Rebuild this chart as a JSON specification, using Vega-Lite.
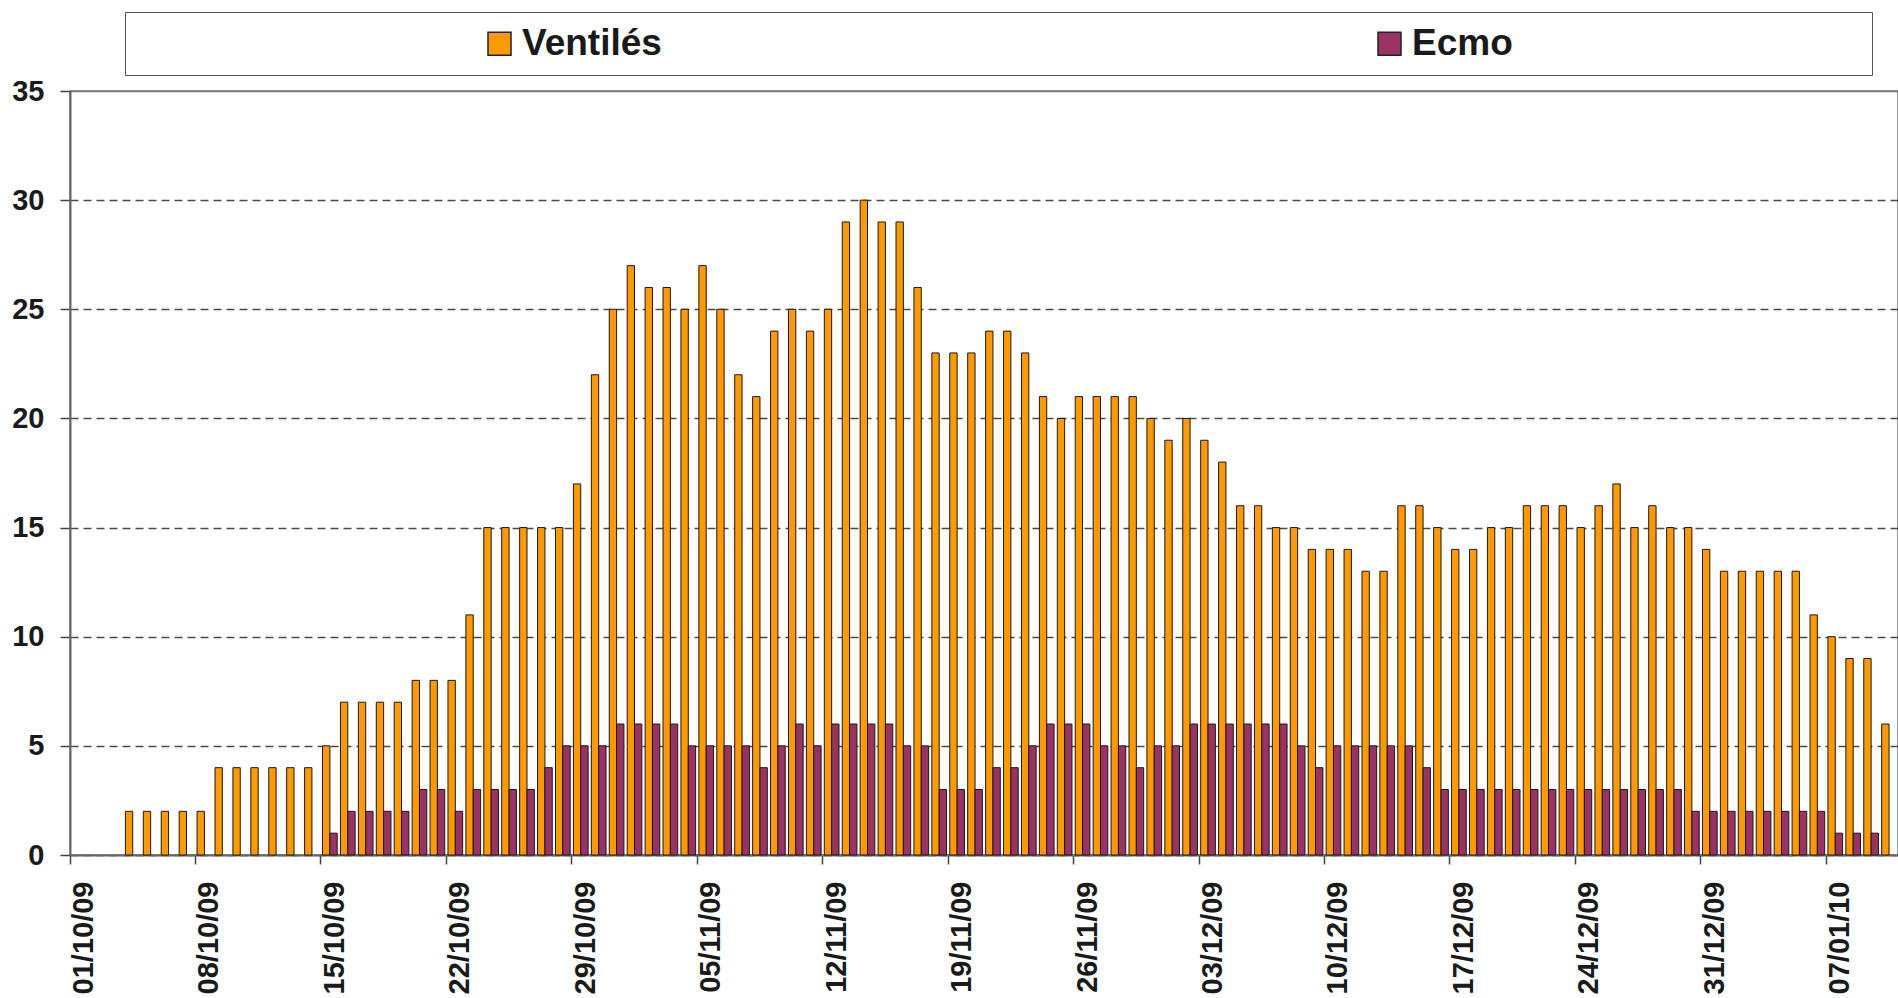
{
  "$schema": "https://vega.github.io/schema/vega-lite/v6.json",
  "width": 1828,
  "height": 764,
  "autosize": {"type": "none"},
  "padding": {"left": 70, "top": 91, "right": 0, "bottom": 143},
  "background": "white",
  "config": {
    "font": "Liberation Sans",
    "view": {"stroke": "#777", "strokeWidth": 1.5}
  },
  "data": {
    "values": [
      {"d": "01/10/09", "Ventilés": 0, "Ecmo": 0},
      {"d": "02/10/09", "Ventilés": 0, "Ecmo": 0},
      {"d": "03/10/09", "Ventilés": 0, "Ecmo": 0},
      {"d": "04/10/09", "Ventilés": 2, "Ecmo": 0},
      {"d": "05/10/09", "Ventilés": 2, "Ecmo": 0},
      {"d": "06/10/09", "Ventilés": 2, "Ecmo": 0},
      {"d": "07/10/09", "Ventilés": 2, "Ecmo": 0},
      {"d": "08/10/09", "Ventilés": 2, "Ecmo": 0},
      {"d": "09/10/09", "Ventilés": 4, "Ecmo": 0},
      {"d": "10/10/09", "Ventilés": 4, "Ecmo": 0},
      {"d": "11/10/09", "Ventilés": 4, "Ecmo": 0},
      {"d": "12/10/09", "Ventilés": 4, "Ecmo": 0},
      {"d": "13/10/09", "Ventilés": 4, "Ecmo": 0},
      {"d": "14/10/09", "Ventilés": 4, "Ecmo": 0},
      {"d": "15/10/09", "Ventilés": 5, "Ecmo": 1},
      {"d": "16/10/09", "Ventilés": 7, "Ecmo": 2},
      {"d": "17/10/09", "Ventilés": 7, "Ecmo": 2},
      {"d": "18/10/09", "Ventilés": 7, "Ecmo": 2},
      {"d": "19/10/09", "Ventilés": 7, "Ecmo": 2},
      {"d": "20/10/09", "Ventilés": 8, "Ecmo": 3},
      {"d": "21/10/09", "Ventilés": 8, "Ecmo": 3},
      {"d": "22/10/09", "Ventilés": 8, "Ecmo": 2},
      {"d": "23/10/09", "Ventilés": 11, "Ecmo": 3},
      {"d": "24/10/09", "Ventilés": 15, "Ecmo": 3},
      {"d": "25/10/09", "Ventilés": 15, "Ecmo": 3},
      {"d": "26/10/09", "Ventilés": 15, "Ecmo": 3},
      {"d": "27/10/09", "Ventilés": 15, "Ecmo": 4},
      {"d": "28/10/09", "Ventilés": 15, "Ecmo": 5},
      {"d": "29/10/09", "Ventilés": 17, "Ecmo": 5},
      {"d": "30/10/09", "Ventilés": 22, "Ecmo": 5},
      {"d": "31/10/09", "Ventilés": 25, "Ecmo": 6},
      {"d": "01/11/09", "Ventilés": 27, "Ecmo": 6},
      {"d": "02/11/09", "Ventilés": 26, "Ecmo": 6},
      {"d": "03/11/09", "Ventilés": 26, "Ecmo": 6},
      {"d": "04/11/09", "Ventilés": 25, "Ecmo": 5},
      {"d": "05/11/09", "Ventilés": 27, "Ecmo": 5},
      {"d": "06/11/09", "Ventilés": 25, "Ecmo": 5},
      {"d": "07/11/09", "Ventilés": 22, "Ecmo": 5},
      {"d": "08/11/09", "Ventilés": 21, "Ecmo": 4},
      {"d": "09/11/09", "Ventilés": 24, "Ecmo": 5},
      {"d": "10/11/09", "Ventilés": 25, "Ecmo": 6},
      {"d": "11/11/09", "Ventilés": 24, "Ecmo": 5},
      {"d": "12/11/09", "Ventilés": 25, "Ecmo": 6},
      {"d": "13/11/09", "Ventilés": 29, "Ecmo": 6},
      {"d": "14/11/09", "Ventilés": 30, "Ecmo": 6},
      {"d": "15/11/09", "Ventilés": 29, "Ecmo": 6},
      {"d": "16/11/09", "Ventilés": 29, "Ecmo": 5},
      {"d": "17/11/09", "Ventilés": 26, "Ecmo": 5},
      {"d": "18/11/09", "Ventilés": 23, "Ecmo": 3},
      {"d": "19/11/09", "Ventilés": 23, "Ecmo": 3},
      {"d": "20/11/09", "Ventilés": 23, "Ecmo": 3},
      {"d": "21/11/09", "Ventilés": 24, "Ecmo": 4},
      {"d": "22/11/09", "Ventilés": 24, "Ecmo": 4},
      {"d": "23/11/09", "Ventilés": 23, "Ecmo": 5},
      {"d": "24/11/09", "Ventilés": 21, "Ecmo": 6},
      {"d": "25/11/09", "Ventilés": 20, "Ecmo": 6},
      {"d": "26/11/09", "Ventilés": 21, "Ecmo": 6},
      {"d": "27/11/09", "Ventilés": 21, "Ecmo": 5},
      {"d": "28/11/09", "Ventilés": 21, "Ecmo": 5},
      {"d": "29/11/09", "Ventilés": 21, "Ecmo": 4},
      {"d": "30/11/09", "Ventilés": 20, "Ecmo": 5},
      {"d": "01/12/09", "Ventilés": 19, "Ecmo": 5},
      {"d": "02/12/09", "Ventilés": 20, "Ecmo": 6},
      {"d": "03/12/09", "Ventilés": 19, "Ecmo": 6},
      {"d": "04/12/09", "Ventilés": 18, "Ecmo": 6},
      {"d": "05/12/09", "Ventilés": 16, "Ecmo": 6},
      {"d": "06/12/09", "Ventilés": 16, "Ecmo": 6},
      {"d": "07/12/09", "Ventilés": 15, "Ecmo": 6},
      {"d": "08/12/09", "Ventilés": 15, "Ecmo": 5},
      {"d": "09/12/09", "Ventilés": 14, "Ecmo": 4},
      {"d": "10/12/09", "Ventilés": 14, "Ecmo": 5},
      {"d": "11/12/09", "Ventilés": 14, "Ecmo": 5},
      {"d": "12/12/09", "Ventilés": 13, "Ecmo": 5},
      {"d": "13/12/09", "Ventilés": 13, "Ecmo": 5},
      {"d": "14/12/09", "Ventilés": 16, "Ecmo": 5},
      {"d": "15/12/09", "Ventilés": 16, "Ecmo": 4},
      {"d": "16/12/09", "Ventilés": 15, "Ecmo": 3},
      {"d": "17/12/09", "Ventilés": 14, "Ecmo": 3},
      {"d": "18/12/09", "Ventilés": 14, "Ecmo": 3},
      {"d": "19/12/09", "Ventilés": 15, "Ecmo": 3},
      {"d": "20/12/09", "Ventilés": 15, "Ecmo": 3},
      {"d": "21/12/09", "Ventilés": 16, "Ecmo": 3},
      {"d": "22/12/09", "Ventilés": 16, "Ecmo": 3},
      {"d": "23/12/09", "Ventilés": 16, "Ecmo": 3},
      {"d": "24/12/09", "Ventilés": 15, "Ecmo": 3},
      {"d": "25/12/09", "Ventilés": 16, "Ecmo": 3},
      {"d": "26/12/09", "Ventilés": 17, "Ecmo": 3},
      {"d": "27/12/09", "Ventilés": 15, "Ecmo": 3},
      {"d": "28/12/09", "Ventilés": 16, "Ecmo": 3},
      {"d": "29/12/09", "Ventilés": 15, "Ecmo": 3},
      {"d": "30/12/09", "Ventilés": 15, "Ecmo": 2},
      {"d": "31/12/09", "Ventilés": 14, "Ecmo": 2},
      {"d": "01/01/10", "Ventilés": 13, "Ecmo": 2},
      {"d": "02/01/10", "Ventilés": 13, "Ecmo": 2},
      {"d": "03/01/10", "Ventilés": 13, "Ecmo": 2},
      {"d": "04/01/10", "Ventilés": 13, "Ecmo": 2},
      {"d": "05/01/10", "Ventilés": 13, "Ecmo": 2},
      {"d": "06/01/10", "Ventilés": 11, "Ecmo": 2},
      {"d": "07/01/10", "Ventilés": 10, "Ecmo": 1},
      {"d": "08/01/10", "Ventilés": 9, "Ecmo": 1},
      {"d": "09/01/10", "Ventilés": 9, "Ecmo": 1},
      {"d": "10/01/10", "Ventilés": 6}
    ]
  },
  "transform": [
    {"fold": ["Ventilés", "Ecmo"], "as": ["series", "count"]}
  ],
  "mark": {"type": "bar", "stroke": "#1a1a1a", "strokeWidth": 1},
  "encoding": {
    "x": {
      "field": "d",
      "type": "ordinal",
      "sort": null,
      "scale": {"paddingInner": 0, "paddingOuter": 0},
      "axis": {
        "title": null,
        "values": ["01/10/09", "08/10/09", "15/10/09", "22/10/09", "29/10/09", "05/11/09", "12/11/09", "19/11/09", "26/11/09", "03/12/09", "10/12/09", "17/12/09", "24/12/09", "31/12/09", "07/01/10"],
        "bandPosition": 0,
        "labelAngle": -90,
        "labelAlign": "right",
        "labelBaseline": "middle",
        "labelOffset": 5,
        "labelPadding": 17,
        "labelFontSize": 29,
        "labelFontWeight": "bold",
        "labelColor": "#1a1a1a",
        "tickSize": 9,
        "tickColor": "#444",
        "tickWidth": 1.5,
        "domainColor": "#666",
        "domainWidth": 2,
        "grid": false
      }
    },
    "xOffset": {
      "field": "series",
      "type": "nominal",
      "sort": ["Ventilés", "Ecmo"],
      "scale": {"paddingInner": 0, "paddingOuter": 0.22}
    },
    "y": {
      "field": "count",
      "type": "quantitative",
      "scale": {"domain": [0, 35], "nice": false},
      "axis": {
        "title": null,
        "values": [0, 5, 10, 15, 20, 25, 30, 35],
        "labelFontSize": 29,
        "labelFontWeight": "bold",
        "labelColor": "#1a1a1a",
        "labelPadding": 16,
        "tickSize": 10,
        "tickColor": "#444",
        "tickWidth": 1.5,
        "domainColor": "#666",
        "domainWidth": 2,
        "grid": true,
        "gridColor": {"condition": {"test": "datum.value == 35", "value": "#777"}, "value": "#4a4a4a"},
        "gridWidth": 1.5,
        "gridDash": {"condition": {"test": "datum.value == 35", "value": []}, "value": [8, 5]}
      }
    },
    "color": {
      "field": "series",
      "type": "nominal",
      "sort": ["Ventilés", "Ecmo"],
      "scale": {"domain": ["Ventilés", "Ecmo"], "range": ["#FF9900", "#993366"]},
      "legend": {
        "orient": "none",
        "legendX": 55,
        "legendY": -79,
        "direction": "horizontal",
        "title": " ",
        "titleOrient": "right",
        "titleFontSize": 8,
        "titlePadding": 346,
        "padding": 13,
        "strokeColor": "#555",
        "fillColor": "white",
        "symbolType": "square",
        "symbolSize": 529,
        "symbolStrokeColor": "#222",
        "symbolStrokeWidth": 1.5,
        "symbolOffset": 343,
        "labelOffset": 4,
        "columnPadding": 366,
        "labelFontSize": 37,
        "labelFontWeight": "bold",
        "labelColor": "#1a1a1a",
        "labelFont": "Liberation Sans"
      }
    },
    "opacity": {
      "condition": {"test": "datum.count > 0", "value": 1},
      "value": 0,
      "legend": null
    }
  }
}
